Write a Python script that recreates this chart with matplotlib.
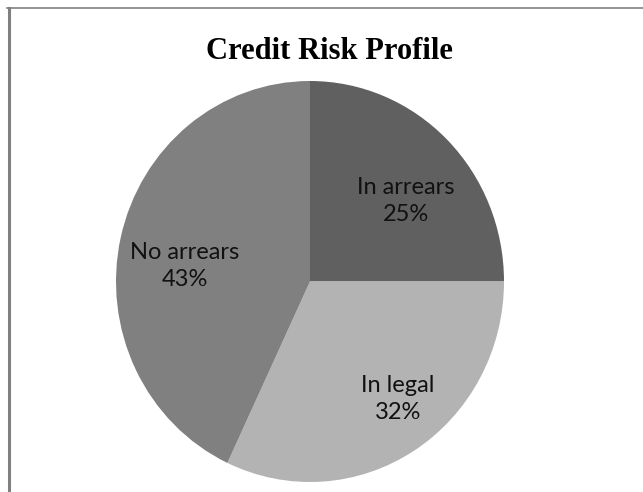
import matplotlib.pyplot as plt
from matplotlib.lines import Line2D

# credit risk split, clockwise from 12 o'clock
categories = ["In arrears", "In legal", "No arrears"]
shares = [25, 32, 43]
colors = ["#606060", "#b3b3b3", "#808080"]

# where each label sits inside its slice (pie units)
label_pos = [(0.495, 0.40), (0.454, -0.586), (-0.644, 0.077)]

W, H = 643, 492
fig = plt.figure(figsize=(W / 100, H / 100), dpi=100)
fig.patch.set_facecolor("white")

# pie box: centre (310, 281.5) px, rx 194, ry 200.5
ax = fig.add_axes([116 / W, (H - 482) / H, 388 / W, 401 / H])
wedges, _ = ax.pie(shares, colors=colors, startangle=90, counterclock=False,
                   wedgeprops=dict(linewidth=0))
ax.set_aspect("auto")
ax.set_xlim(-1, 1)
ax.set_ylim(-1, 1)
ax.axis("off")

for name, val, (x, y) in zip(categories, shares, label_pos):
    ax.text(x, y, "%s\n%d%%" % (name, val), ha="center", va="center",
            fontsize=17, family=["Lato", "DejaVu Sans"], color="#111111",
            linespacing=1.35)

fig.text(329 / W, (H - 59) / H, "Credit Risk Profile", ha="center", va="baseline",
         fontsize=22, fontweight="bold", family=["Liberation Serif", "DejaVu Serif"])

# chart area border, cropped at right and bottom
fig.add_artist(Line2D([8.5 / W, 8.5 / W], [0, (H - 7.5) / H], transform=fig.transFigure,
                      color="#808080", linewidth=2.2))
fig.add_artist(Line2D([7 / W, 1], [(H - 8.3) / H, (H - 8.3) / H], transform=fig.transFigure,
                      color="#808080", linewidth=1.2))

fig.savefig("out.png", dpi=100)
